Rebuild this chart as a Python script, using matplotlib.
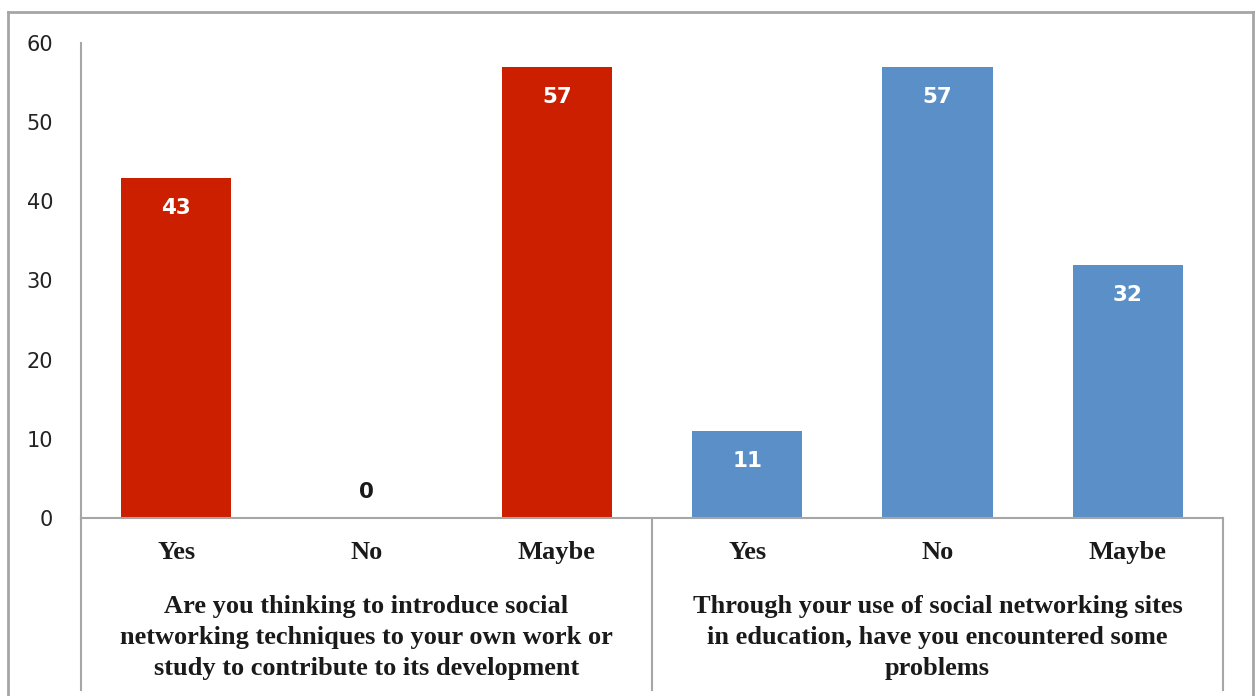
import matplotlib
matplotlib.use('Agg')
import matplotlib.pyplot as plt
from matplotlib.lines import Line2D

# ── Data ──
answers = ['Yes', 'No', 'Maybe']
questions = [
    'Are you thinking to introduce social\nnetworking techniques to your own work or\nstudy to contribute to its development',
    'Through your use of social networking sites\nin education, have you encountered some\nproblems',
]
q1_values = [43, 0, 57]
q2_values = [11, 57, 32]
y_ticks = [0, 10, 20, 30, 40, 50, 60]

RED = '#CC1F00'
BLUE = '#5B8FC7'
GREY = '#A6A6A6'
DARK = '#1A1A1A'

fig = plt.figure(figsize=(12.56, 6.96), dpi=100)
fig.patch.set_facecolor('white')
ax = fig.add_axes([81 / 1256, 1 - 518 / 696, (1223 - 81) / 1256, (518 - 43) / 696])

values = q1_values + q2_values
colors = [RED] * 3 + [BLUE] * 3
xs = list(range(len(values)))
ax.bar(xs, values, width=0.58, color=colors)

for x, v in zip(xs, values):
    if v > 0:
        ax.text(x, v - 3.8, str(v), ha='center', va='center', color='white',
                fontsize=15.5, fontweight='bold', family='DejaVu Sans')
    else:
        ax.text(x, v + 3.3, str(v), ha='center', va='center', color=DARK,
                fontsize=15.5, fontweight='bold', family='DejaVu Sans')

ax.set_xlim(-0.5, 5.5)
ax.set_ylim(0, 60)
ax.set_yticks(y_ticks)
ax.tick_params(axis='y', length=0, pad=20, labelsize=15, colors='#222222')
ax.set_xticks([])
for side in ['top', 'right']:
    ax.spines[side].set_visible(False)
for side in ['left', 'bottom']:
    ax.spines[side].set_color(GREY)
    ax.spines[side].set_linewidth(1.5)

# category labels and group dividers
tr = ax.get_xaxis_transform()
for x, lab in zip(xs, answers * 2):
    ax.text(x, -0.072, lab, transform=tr, ha='center', va='center',
            fontsize=19, fontweight='bold', family='Liberation Serif', color=DARK)
for i, q in enumerate(questions):
    ax.text(1 + 3 * i, -0.252, q, transform=tr, ha='center', va='center',
            multialignment='center', linespacing=1.45,
            fontsize=19, fontweight='bold', family='Liberation Serif', color=DARK)
for xd in [-0.5, 2.5, 5.5]:
    ax.plot([xd, xd], [0, -0.362], transform=tr, color=GREY, lw=1.5, clip_on=False)

# outer chart frame (bottom edge cut off)
l, t, r = 8 / 1256, 1 - 12 / 696, 1253 / 1256
for xx, yy in [([l, l], [0, t]), ([l, r], [t, t]), ([r, r], [t, 0])]:
    fig.add_artist(Line2D(xx, yy, transform=fig.transFigure, color=GREY, lw=2))

plt.savefig('out.png', dpi=100, facecolor='white')
